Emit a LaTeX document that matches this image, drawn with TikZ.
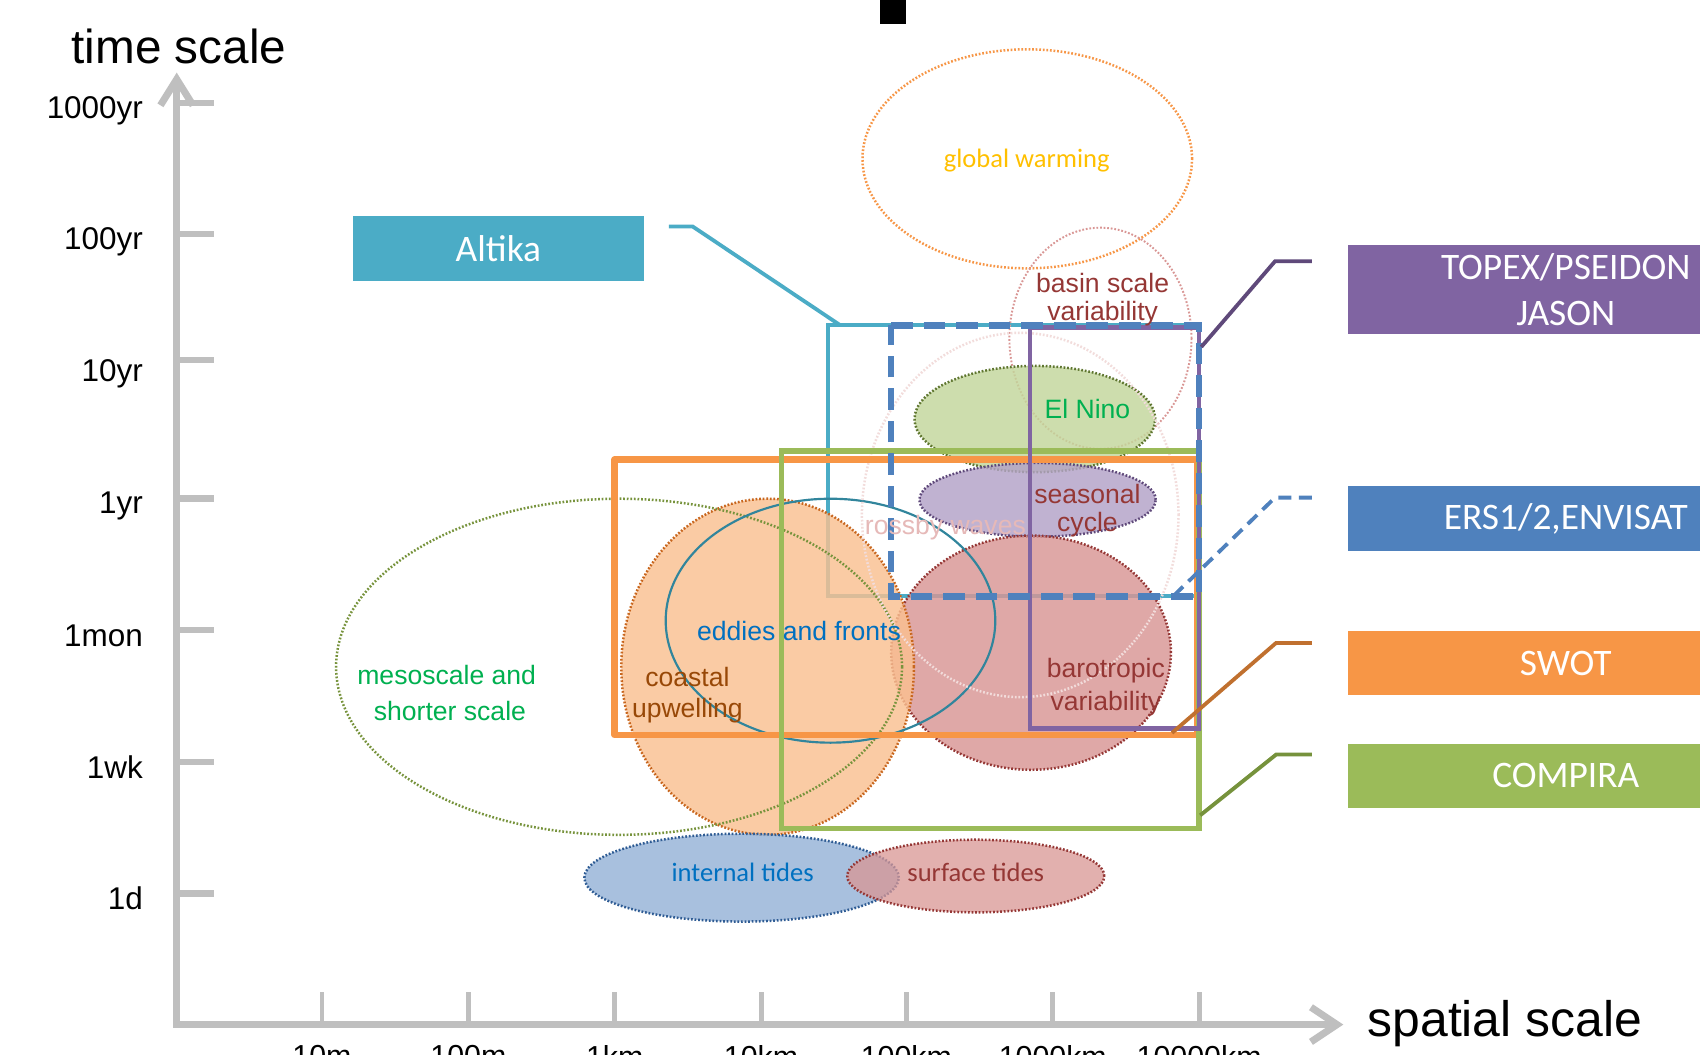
\documentclass[tikz,border=0pt]{standalone}
\usepackage{fontspec}
\setmainfont{Liberation Sans}
\newfontfamily\calfont{Carlito}
\usetikzlibrary{arrows.meta}
\definecolor{axisgray}{HTML}{BFBFBF}
\definecolor{altika}{HTML}{4BACC6}
\definecolor{topex}{HTML}{8064A2}
\definecolor{ers}{HTML}{4F81BD}
\definecolor{swot}{HTML}{F79646}
\definecolor{compira}{HTML}{9BBB59}
\definecolor{topexline}{HTML}{5F497A}
\definecolor{swotline}{HTML}{C0702F}
\definecolor{compiraline}{HTML}{76923C}
\definecolor{darkred}{HTML}{953735}
\definecolor{pinkred}{HTML}{D99694}
\definecolor{lightpink}{HTML}{F2DCDB}
\definecolor{rosstext}{HTML}{E6B9B8}
\definecolor{gwtext}{HTML}{FFC000}
\definecolor{greentext}{HTML}{00B050}
\definecolor{bluetext}{HTML}{0070C0}
\definecolor{browntext}{HTML}{984807}
\definecolor{olive}{HTML}{77933C}
\definecolor{ninofill}{HTML}{C3D69B}
\definecolor{seasfill}{HTML}{B3A2C7}
\definecolor{seasline}{HTML}{5F497A}
\definecolor{coastfill}{HTML}{FAC090}
\definecolor{coastline}{HTML}{C8661E}
\definecolor{intfill}{HTML}{95B3D7}
\definecolor{intline}{HTML}{2F5C94}
\definecolor{eddyline}{HTML}{31859C}
\begin{document}
\begin{tikzpicture}[x=1pt,y=-1pt,
  axisline/.style={draw=axisgray, line width=6.5pt},
  tickline/.style={draw=axisgray, line width=6pt},
  ylab/.style={inner sep=0pt, anchor=base east, font=\fontsize{29}{33}\selectfont},
  xlab/.style={inner sep=0pt, anchor=north, font=\fontsize{28}{32}\selectfont},
  lbl/.style={inner sep=0pt, font=\fontsize{24.5}{29}\selectfont},
  clbl/.style={inner sep=0pt, font=\calfont\fontsize{24.5}{29}\selectfont},
  satbox/.style={fill=#1, text=white, inner sep=0pt, anchor=north west,
    minimum width=402pt, align=center, font=\calfont\fontsize{34.5}{42}\selectfont},
  dotline/.style={dash pattern=on 1.6pt off 1.7pt, line width=2.3pt},
  conn/.style={line width=3.5pt},
  filledell/.style={fill=#1, fill opacity=0.82, draw opacity=1}
]
\useasboundingbox (0,0) rectangle (1568,973);
\clip (0,0) rectangle (1568,973);
\fill[white] (0,0) rectangle (1568,973);

% black mark at top
\fill[black] (812,0) rectangle (836,22);

% ---------------- axes ----------------
\coordinate (ytop) at (163,67);
\coordinate (orig) at (163,945);
\coordinate (xend) at (1239,945);
\draw[axisline, line join=miter,
  {Straight Barb[length=24pt,width=30pt]}-{Straight Barb[length=24pt,width=32pt]}]
  (ytop) -- (orig) -- (xend);
\foreach \yy/\ly/\tt in {95/109/1000yr, 216/230/100yr, 332/352/10yr, 460/474/1yr, 581/596/1mon, 703/718/1wk, 824/839/1d}{
  \draw[tickline] (163,\yy) -- (197,\yy);
  \node[ylab] (yl\tt) at (132,\ly) {\tt};
}
\foreach \xx/\tt in {297/10m, 432/100m, 567/1km, 702/10km, 836/100km, 971/1000km, 1106/10000km}{
  \draw[tickline, line width=4.5pt] (\xx,945) -- (\xx,915);
  \node[xlab] (xl\tt) at (\xx,964) {\tt};
}
\node[inner sep=0pt, anchor=base, font=\fontsize{44}{48}\selectfont] (tscale) at (165,59) {time scale};
\node[inner sep=0pt, anchor=base, font=\fontsize{46}{50}\selectfont] (sscale) at (1388,956) {spatial scale};

% ---------------- Altika rectangle (below ellipses) ----------------
\draw[altika, line width=3.5pt] (764,300) rectangle (1106,550);

% ---------------- ellipses ----------------
\draw[dotline, draw=swot] (947.5,146.5) ellipse [x radius=152pt, y radius=101pt];
\draw[dotline, draw=pinkred, line width=1.8pt] (1015,312) ellipse [x radius=84pt, y radius=102pt];
\filldraw[filledell=ninofill, dotline, draw=olive!80!black] (954.5,386.5) ellipse [x radius=111pt, y radius=49pt];
\filldraw[filledell=seasfill, dotline, draw=seasline] (957,461) ellipse [x radius=109pt, y radius=34pt];
\filldraw[filledell=pinkred, dotline, draw=darkred] (951,602) ellipse [x radius=129pt, y radius=108pt];
\filldraw[filledell=coastfill, dotline, draw=coastline] (708,615) ellipse [x radius=135pt, y radius=155pt];
\filldraw[filledell=intfill, dotline, draw=intline] (684,809.5) ellipse [x radius=145pt, y radius=40.5pt];
\filldraw[filledell=pinkred, fill opacity=0.75, dotline, draw=darkred] (900,808) ellipse [x radius=118.5pt, y radius=33.5pt];
\draw[dotline, draw=olive] (571,615) ellipse [x radius=261pt, y radius=155pt];
\draw[eddyline, line width=2pt] (766,572.5) ellipse [x radius=152pt, y radius=112.5pt];
\draw[dotline, draw=lightpink] (941,475) ellipse [x radius=146pt, y radius=168pt];

% ---------------- satellite rectangles ----------------
\draw[swot, line width=6pt, line join=round] (567,424) rectangle (1104,678);
\draw[compira, line width=5pt] (721,416) rectangle (1106,764);
\draw[topex, line width=4pt] (950,302) rectangle (1106,672);
\draw[ers, line width=6pt, dash pattern=on 20pt off 10pt] (822,300) -- (1106,300) -- (1106,550) -- (822,550) -- cycle;

% ---------------- label boxes ----------------
\node[satbox=altika, anchor=north west, minimum width=269pt, minimum height=60pt] (altikabox) at (325,199) {Altika};
\node[satbox=topex, minimum height=82pt] (topexbox) at (1243,226) {TOPEX/PSEIDON\\JASON};
\node[satbox=ers, minimum height=60pt] (ersbox) at (1243,448) {ERS1/2,ENVISAT};
\node[satbox=swot, minimum height=59pt] (swotbox) at (1243,582) {SWOT};
\node[satbox=compira, minimum height=59pt] (compirabox) at (1243,686) {COMPIRA};

% ---------------- connectors ----------------
\coordinate (alt1) at (617,209);
\coordinate (alt2) at (639,209);
\coordinate (alt3) at (775,300);
\draw[conn, altika] (alt1) -- (alt2) -- (alt3);

\coordinate (top1) at (1210,241);
\coordinate (top2) at (1176,241);
\coordinate (top3) at (1108,320);
\draw[conn, topexline] (top1) -- (top2) -- (top3);

\coordinate (ers1) at (1210,459);
\coordinate (ers2) at (1176,459);
\coordinate (ers3) at (1083,549);
\draw[conn, ers, dash pattern=on 12pt off 7pt] (ers1) -- (ers2) -- (ers3);

\coordinate (swo1) at (1210,593);
\coordinate (swo2) at (1177,593);
\coordinate (swo3) at (1081,676);
\draw[conn, swotline] (swo1) -- (swo2) -- (swo3);

\coordinate (com1) at (1210,696);
\coordinate (com2) at (1177,696);
\coordinate (com3) at (1107,752);
\draw[conn, compiraline] (com1) -- (com2) -- (com3);

% ---------------- ellipse labels ----------------
\node[clbl, text=gwtext] (gw) at (947,148) {global warming};
\node[lbl, text=darkred] (basin1) at (1017,261) {basin scale};
\node[lbl, text=darkred] (basin2) at (1017,289) {variability};
\node[lbl, text=greentext] (nino) at (1003,377) {El Nino};
\node[lbl, text=darkred] (seas1) at (1003,456) {seasonal};
\node[lbl, text=darkred] (seas2) at (1003,484) {cycle};
\node[lbl, text=rosstext] (rossby) at (872,487) {rossby waves};
\node[lbl, text=bluetext] (eddies) at (737,582) {eddies and fronts};
\node[lbl, text=browntext] (coast1) at (634,624) {coastal};
\node[lbl, text=browntext] (coast2) at (634,655) {upwelling};
\node[lbl, text=darkred] (baro1) at (1020,619) {barotropic};
\node[lbl, text=darkred] (baro2) at (1020,649) {variability};
\node[lbl, text=greentext] (meso1) at (412,623) {mesoscale and};
\node[lbl, text=greentext] (meso2) at (415,656) {shorter scale};
\node[clbl, text=bluetext] (inttides) at (685,805) {internal tides};
\node[clbl, text=darkred] (surftides) at (900,805) {surface tides};
\end{tikzpicture}
\end{document}
